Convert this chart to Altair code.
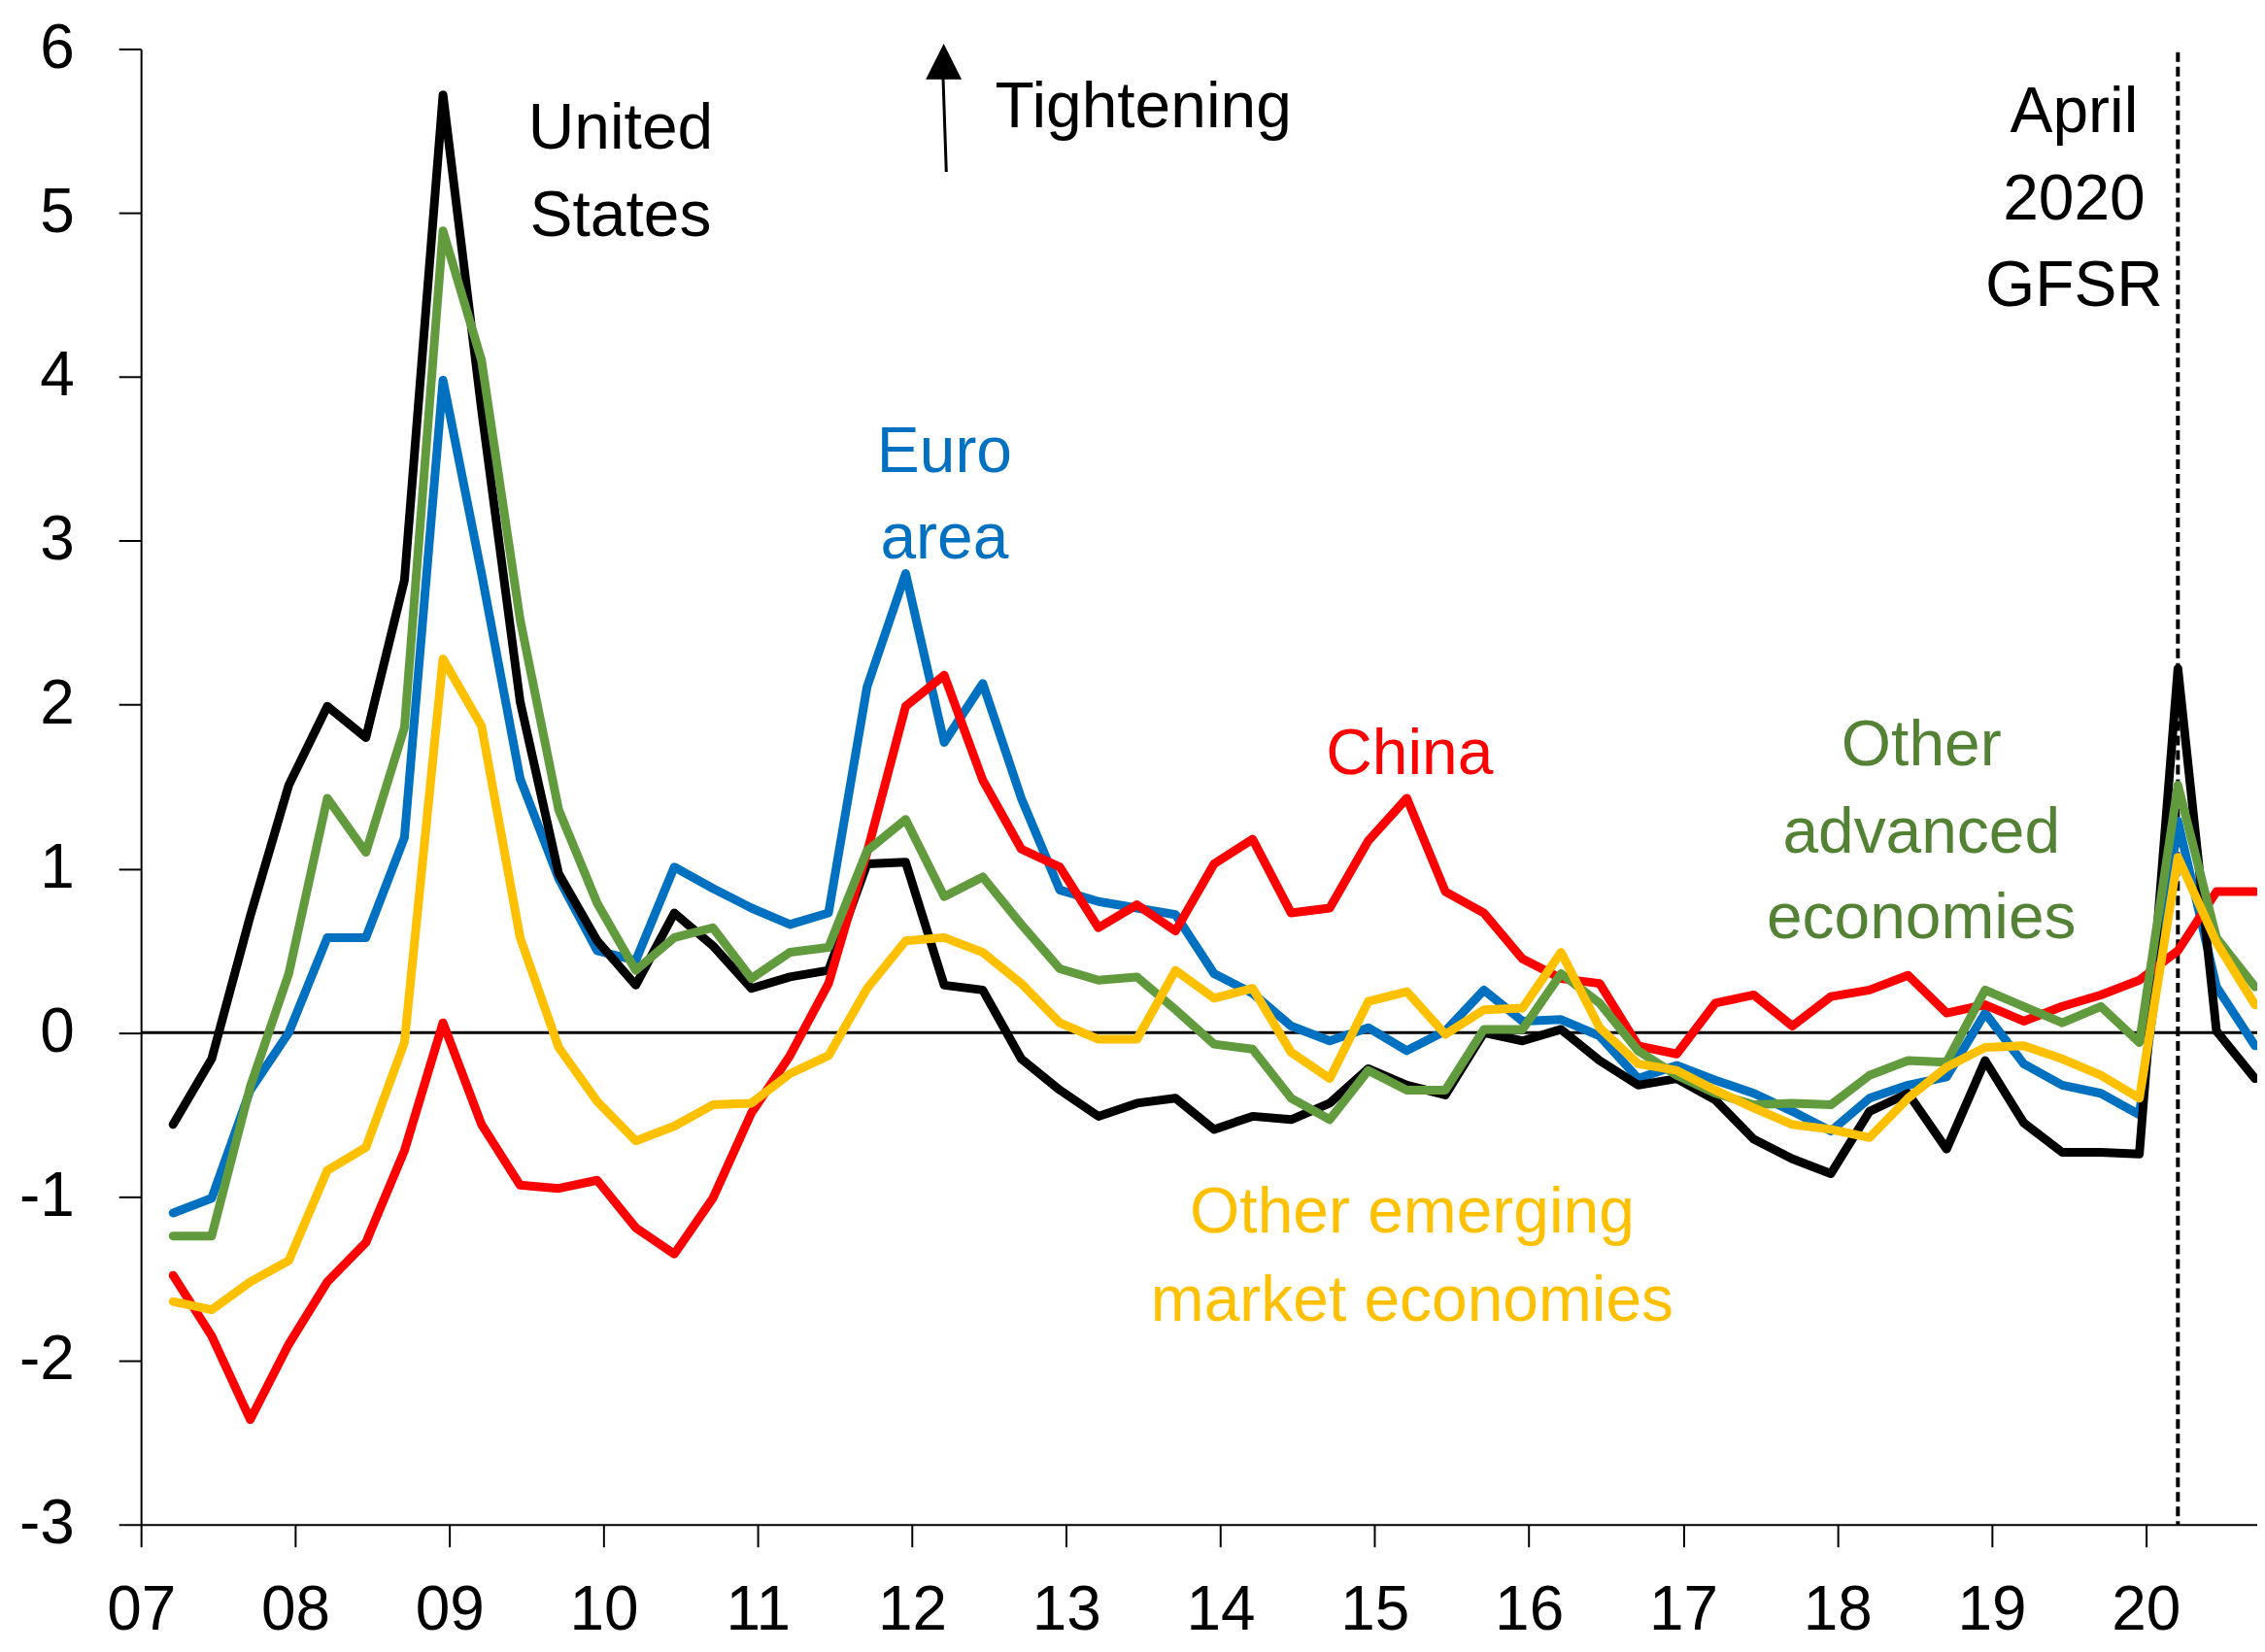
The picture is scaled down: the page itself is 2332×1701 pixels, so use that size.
import altair as alt
import pandas as pd

FONT = "Liberation Sans, Arial, sans-serif"
FS = 64

# Quarterly observations, 2007Q1 .. 2020Q3
quarters = [f"{y}Q{q}" for y in range(2007, 2021) for q in range(1, 5)][:55]

united_states = [-0.56, -0.16, 0.71, 1.51, 1.99, 1.80, 2.76, 5.72, 3.80, 2.02,
                 0.97, 0.56, 0.29, 0.73, 0.53, 0.27, 0.34, 0.38, 1.03, 1.04,
                 0.29, 0.26, -0.16, -0.35, -0.51, -0.43, -0.40, -0.59, -0.51, -0.53,
                 -0.43, -0.22, -0.32, -0.38, 0.00, -0.05, 0.02, -0.17, -0.32, -0.28,
                 -0.41, -0.65, -0.77, -0.86, -0.48, -0.37, -0.71, -0.17, -0.55, -0.73,
                 -0.73, -0.74, 2.22, 0.01, -0.28]
euro_area = [-1.10, -1.01, -0.35, 0.00, 0.58, 0.58, 1.19, 3.98, 2.80, 1.55,
             0.94, 0.50, 0.44, 1.01, 0.88, 0.76, 0.66, 0.73, 2.11, 2.80,
             1.77, 2.13, 1.43, 0.87, 0.80, 0.76, 0.72, 0.36, 0.24, 0.04,
             -0.05, 0.03, -0.11, 0.01, 0.26, 0.07, 0.08, -0.02, -0.28, -0.20,
             -0.29, -0.37, -0.48, -0.60, -0.40, -0.32, -0.27, 0.12, -0.19, -0.32,
             -0.37, -0.50, 1.29, 0.28, -0.08]
china = [-1.48, -1.85, -2.36, -1.90, -1.52, -1.28, -0.72, 0.06, -0.56, -0.93,
         -0.95, -0.90, -1.19, -1.35, -1.01, -0.49, -0.14, 0.30, 1.10, 1.99,
         2.18, 1.54, 1.12, 1.01, 0.64, 0.78, 0.62, 1.03, 1.18, 0.73,
         0.76, 1.17, 1.43, 0.86, 0.73, 0.45, 0.33, 0.30, -0.08, -0.13,
         0.18, 0.23, 0.04, 0.22, 0.26, 0.35, 0.12, 0.17, 0.07, 0.16,
         0.23, 0.32, 0.50, 0.86, 0.86]
other_advanced = [-1.24, -1.24, -0.33, 0.36, 1.43, 1.10, 1.86, 4.89, 4.10, 2.52,
                  1.36, 0.79, 0.38, 0.58, 0.64, 0.33, 0.49, 0.52, 1.11, 1.30,
                  0.83, 0.95, 0.66, 0.39, 0.32, 0.34, 0.14, -0.07, -0.10, -0.40,
                  -0.53, -0.23, -0.35, -0.35, 0.02, 0.02, 0.36, 0.18, -0.11, -0.26,
                  -0.37, -0.44, -0.43, -0.44, -0.26, -0.17, -0.18, 0.26, 0.16, 0.06,
                  0.16, -0.06, 1.51, 0.58, 0.28]
other_emerging = [-1.64, -1.69, -1.52, -1.39, -0.84, -0.70, -0.06, 2.28, 1.87, 0.58,
                  -0.09, -0.42, -0.66, -0.57, -0.44, -0.43, -0.25, -0.14, 0.27, 0.56,
                  0.58, 0.49, 0.30, 0.06, -0.04, -0.04, 0.38, 0.21, 0.27, -0.12,
                  -0.28, 0.19, 0.25, -0.01, 0.14, 0.15, 0.49, 0.03, -0.19, -0.23,
                  -0.35, -0.46, -0.56, -0.59, -0.64, -0.40, -0.21, -0.09, -0.08, -0.16,
                  -0.26, -0.40, 1.07, 0.55, 0.17]

series_names = ["Euro area", "United States", "China", "Other advanced economies",
                "Other emerging market economies"]
series_values = [euro_area, united_states, china, other_advanced, other_emerging]
series_colors = ["#0070C0", "#000000", "#FF0000", "#629B3E", "#FFC000"]

year_ticks = list(range(2007, 2021))
y_ticks = list(range(-3, 7))


def quarter_pos(label):
    # plotted at the middle of the quarter's last month
    return int(label[:4]) + (3 * int(label[-1]) - 0.5) / 12


xpos = [quarter_pos(q) for q in quarters]
gfsr_quarter = "2020Q1"

# annotation texts
ann_text = ["United", "States", "Tightening", "Euro", "area", "China",
            "Other", "advanced", "economies", "Other emerging", "market economies",
            "April", "2020", "GFSR"]
ann_x = [2010.11, 2010.11, 2013.50, 2012.21, 2012.21, 2015.226,
         2018.545, 2018.545, 2018.545, 2015.243, 2015.243,
         2019.535, 2019.535, 2019.535]
ann_y = [5.39, 4.86, 5.52, 3.42, 2.89, 1.58,
         1.63, 1.10, 0.575, -1.22, -1.755,
         5.49, 4.96, 4.43]
ann_color = ["#000000", "#000000", "#000000", "#0070C0", "#0070C0", "#FF0000",
             "#548235", "#548235", "#548235", "#FFC000", "#FFC000",
             "#000000", "#000000", "#000000"]

X_DOMAIN = [2007, 2007 + 2182.6 / 159.05]
Y_DOMAIN = [-3, 6]

x_axis = alt.Axis(values=year_ticks, labelExpr="substring(toString(datum.value), 2)",
                  tickSize=23, tickWidth=2, tickColor="black", domainColor="black",
                  domainWidth=2, labelFontSize=FS, labelFont=FONT, labelColor="black",
                  labelPadding=34, grid=False, title=None, labelFlush=False,
                  labelOverlap=False, labelBound=False)
y_axis = alt.Axis(values=y_ticks, labelExpr="toString(datum.value)",
                  tickSize=23, tickWidth=2, tickColor="black", domainColor="black",
                  domainWidth=2, labelFontSize=FS, labelFont=FONT, labelColor="black",
                  labelPadding=46, grid=False, title=None, labelFlush=False,
                  labelOverlap=False, labelBound=False)

xs = alt.Scale(domain=X_DOMAIN, nice=False, zero=False)
ys = alt.Scale(domain=Y_DOMAIN, nice=False, zero=False)

layers = []
for name, vals, col in zip(series_names, series_values, series_colors):
    df = pd.DataFrame({"x": xpos, "value": vals, "series": name})
    layers.append(
        alt.Chart(df).mark_line(color=col, strokeWidth=9, strokeJoin="round",
                                strokeCap="round", clip=True).encode(
            x=alt.X("x:Q", scale=xs, axis=x_axis),
            y=alt.Y("value:Q", scale=ys, axis=y_axis),
        )
    )

zero_line = alt.Chart().mark_rule(color="black", strokeWidth=3).encode(
    y=alt.datum(0)
)
gfsr_line = alt.Chart().mark_rule(color="black", strokeWidth=4, strokeDash=[10, 5]).encode(
    x=alt.datum(quarter_pos(gfsr_quarter)), y=alt.datum(5.98), y2=alt.datum(-3)
)
arrow_shaft = alt.Chart().mark_rule(color="black", strokeWidth=3).encode(
    x=alt.datum(2012.222), y=alt.datum(5.25), x2=alt.datum(2012.201), y2=alt.datum(5.83)
)
arrow_head = alt.Chart().mark_point(shape="M0,-1L1,1L-1,1Z", filled=True, size=1369,
                                    color="black", opacity=1, strokeWidth=0).encode(
    x=alt.datum(2012.2053), y=alt.datum(5.923)
)

ann_df = pd.DataFrame({"text": ann_text, "x": ann_x, "y": ann_y, "color": ann_color})
annotations = alt.Chart(ann_df).mark_text(font=FONT, fontSize=FS + 2, align="center",
                                          baseline="alphabetic").encode(
    x="x:Q", y="y:Q", text="text:N", color=alt.Color("color:N", scale=None)
)

chart = alt.layer(zero_line, gfsr_line, *layers, arrow_shaft, arrow_head, annotations).properties(
    width=2182.6, height=1522,
    autosize=alt.AutoSizeParams(type="none"),
    padding={"left": 137.4, "top": 41, "right": 0, "bottom": 122},
    background="white",
).configure_view(stroke=None)

chart.save("out.html", embed_options={"renderer": "svg", "actions": False})
